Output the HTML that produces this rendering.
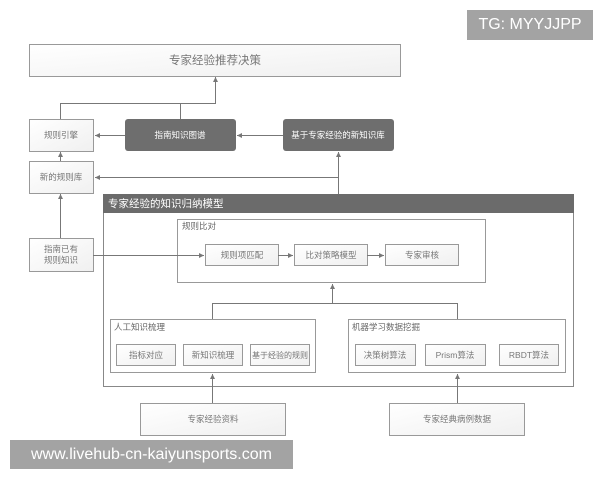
<!DOCTYPE html>
<html><head><meta charset="utf-8"><style>
body{margin:0;width:600px;height:480px;background:#fff;overflow:hidden;position:relative;font-family:"Liberation Sans","Noto Sans CJK SC",sans-serif}
svg text{font-family:"Liberation Sans","Noto Sans CJK SC",sans-serif}
.wm{position:absolute;background:#a3a3a3;color:#fff}
</style></head><body>
<svg width="600" height="480" viewBox="0 0 600 480" xmlns="http://www.w3.org/2000/svg">
<defs>
<marker id="a" markerWidth="6" markerHeight="6" refX="5" refY="3" orient="auto"><path d="M0,0.5 L5,3 L0,5.5z" fill="#777"/></marker>
<linearGradient id="g" x1="0" y1="0" x2="1" y2="1"><stop offset="0" stop-color="#fff"/><stop offset="1" stop-color="#f0f0f0"/></linearGradient>
</defs>
<g fill="url(#g)" stroke="#999" stroke-width="1">
<rect x="29.5" y="44.5" width="371" height="32"/>
<rect x="29.5" y="119.5" width="64" height="32"/>
<rect x="29.5" y="161.5" width="64" height="32"/>
<rect x="29.5" y="238.5" width="64" height="33"/>
<rect x="140.5" y="403.5" width="145" height="32"/>
<rect x="389.5" y="403.5" width="135" height="32"/>
</g>
<rect x="125" y="119" width="111" height="32" rx="3" fill="#6e6e6e"/>
<rect x="283" y="119" width="111" height="32" rx="3" fill="#6e6e6e"/>
<rect x="103.5" y="194.5" width="470" height="192" fill="#fff" stroke="#888"/>
<rect x="103" y="194" width="471" height="19" fill="#6b6b6b"/>
<g fill="#fff" stroke="#999">
<rect x="177.5" y="219.5" width="308" height="63"/>
<rect x="110.5" y="319.5" width="205" height="53"/>
<rect x="348.5" y="319.5" width="217" height="53"/>
</g>
<g fill="url(#g)" stroke="#999">
<rect x="205.5" y="244.5" width="73" height="21"/>
<rect x="294.5" y="244.5" width="73" height="21"/>
<rect x="385.5" y="244.5" width="73" height="21"/>
<rect x="116.5" y="344.5" width="59" height="21"/>
<rect x="183.5" y="344.5" width="59" height="21"/>
<rect x="250.5" y="344.5" width="59" height="21"/>
<rect x="355.5" y="344.5" width="60" height="21"/>
<rect x="425.5" y="344.5" width="60" height="21"/>
<rect x="499.5" y="344.5" width="59" height="21"/>
</g>
<g stroke="#777" fill="none" stroke-width="1">
<path d="M60.5 119 V103.5 H215.5 V77" marker-end="url(#a)"/>
<path d="M180.5 119 V103.5"/>
<path d="M125 135.5 H95" marker-end="url(#a)"/>
<path d="M283 135.5 H237" marker-end="url(#a)"/>
<path d="M60.5 161 V152" marker-end="url(#a)"/>
<path d="M338.5 194 V152" marker-end="url(#a)"/>
<path d="M338.5 177.5 H95" marker-end="url(#a)"/>
<path d="M60.5 238 V194" marker-end="url(#a)"/>
<path d="M93 255.5 H204" marker-end="url(#a)"/>
<path d="M278 255.5 H293" marker-end="url(#a)"/>
<path d="M367 255.5 H384" marker-end="url(#a)"/>
<path d="M212.5 319 V303.5 H457.5 V319"/>
<path d="M332.5 303.5 V284" marker-end="url(#a)"/>
<path d="M212.5 403 V374" marker-end="url(#a)"/>
<path d="M457.5 403 V374" marker-end="url(#a)"/>
</g>
<g font-size="8.5" fill="#777" text-anchor="middle">
<text x="215" y="64" font-size="11.5">专家经验推荐决策</text>
<text x="61" y="138">规则引擎</text>
<text x="61" y="180">新的规则库</text>
<text x="61" y="252">指南已有</text>
<text x="61" y="263">规则知识</text>
<text x="180" y="138" fill="#fff">指南知识图谱</text>
<text x="338" y="138" fill="#fff">基于专家经验的新知识库</text>
<text x="242" y="258">规则项匹配</text>
<text x="331" y="258">比对策略模型</text>
<text x="422" y="258">专家审核</text>
<text x="146" y="358">指标对应</text>
<text x="213" y="358">新知识梳理</text>
<text x="280" y="358" font-size="8">基于经验的规则</text>
<text x="385" y="358">决策树算法</text>
<text x="455" y="358">Prism算法</text>
<text x="529" y="358">RBDT算法</text>
<text x="213" y="422">专家经验资料</text>
<text x="457" y="422">专家经典病例数据</text>
</g>
<g font-size="8.5" fill="#666">
<text x="182" y="229">规则比对</text>
<text x="114" y="330">人工知识梳理</text>
<text x="352" y="330">机器学习数据挖掘</text>
</g>
<text x="108" y="207" font-size="10.5" fill="#fff">专家经验的知识归纳模型</text>
</svg>
<div class="wm" style="left:467px;top:10px;width:126px;height:30px;line-height:30px;text-align:center;font-size:16px">TG: MYYJJPP</div>
<div class="wm" style="left:10px;top:440px;width:283px;height:29px;line-height:29px;text-align:center;font-size:16px">www.livehub-cn-kaiyunsports.com</div>
</body></html>
